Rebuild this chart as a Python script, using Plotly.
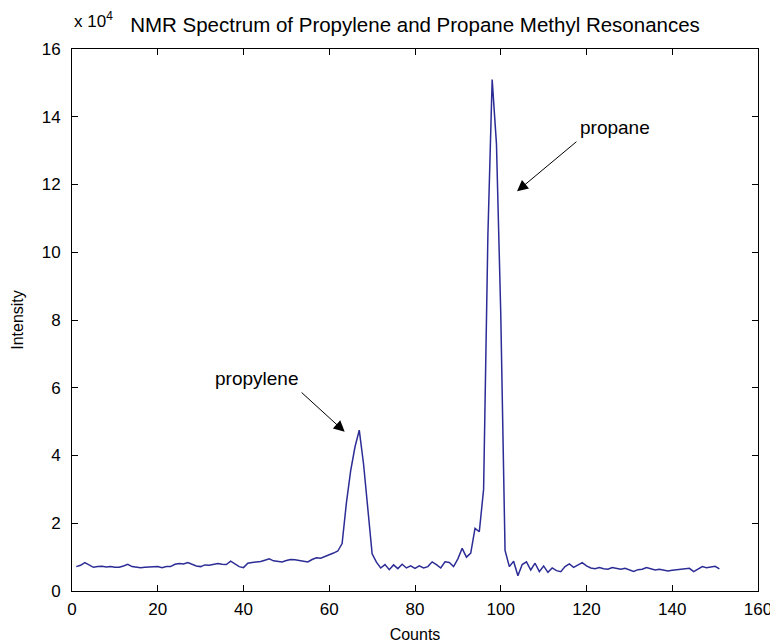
import plotly.graph_objects as go

# Counts (x) and intensity values in units of 1e4
counts = list(range(1, 152))
intensity_e4 = [
    0.72, 0.76, 0.84, 0.76, 0.70, 0.72, 0.73, 0.71, 0.72, 0.70,
    0.70, 0.74, 0.79, 0.72, 0.70, 0.69, 0.70, 0.70, 0.71, 0.72,
    0.69, 0.72, 0.72, 0.79, 0.81, 0.80, 0.84, 0.78, 0.74, 0.72,
    0.77, 0.76, 0.79, 0.81, 0.79, 0.78, 0.88, 0.80, 0.72, 0.69,
    0.82, 0.84, 0.85, 0.87, 0.91, 0.95, 0.89, 0.87, 0.86, 0.90,
    0.93, 0.92, 0.90, 0.86, 0.86, 0.93, 0.98, 0.97, 1.02, 1.05,
    1.12, 1.18, 1.40, 2.60, 3.55, 4.25, 4.75, 3.75, 2.50, 1.10,
    0.85, 0.68, 0.78, 0.63, 0.77, 0.66, 0.79, 0.68, 0.74, 0.67,
    0.74, 0.68, 0.72, 0.86, 0.78, 0.68, 0.86, 0.84, 0.72, 0.95,
    1.26, 1.00, 1.12, 1.85, 1.75, 3.00, 10.50, 15.10, 13.20, 8.20,
    1.20, 0.72, 0.88, 0.45, 0.78, 0.86, 0.62, 0.82, 0.57, 0.74,
    0.55, 0.68, 0.60, 0.57, 0.72, 0.80, 0.70, 0.76, 0.84, 0.74,
    0.68, 0.66, 0.69, 0.66, 0.64, 0.69, 0.66, 0.64, 0.67, 0.62,
    0.58, 0.63, 0.64, 0.69, 0.66, 0.62, 0.64, 0.62, 0.59, 0.61,
    0.62, 0.63, 0.65, 0.67, 0.57, 0.64, 0.72, 0.69, 0.70, 0.73,
    0.65,
]

x_ticks = [0, 20, 40, 60, 80, 100, 120, 140, 160]
y_ticks = [0, 2, 4, 6, 8, 10, 12, 14, 16]

title_text = "NMR Spectrum of Propylene and Propane Methyl Resonances"
x_label = "Counts"
y_label = "Intensity"
exponent_text = "x 10<sup>4</sup>"

# annotations: (label, head_x, head_y, tail_x, tail_y)
peak_labels = ["propylene", "propane"]
head_x = [63.6, 103.8]
head_y = [4.7, 11.8]
tail_x = [53.2, 118.0]
tail_y = [5.9, 13.3]

FONT = "Liberation Sans, Arial, Helvetica, sans-serif"

fig = go.Figure()
fig.add_trace(go.Scatter(
    x=counts, y=intensity_e4, mode="lines",
    line=dict(color="#2c2c96", width=1.5),
    showlegend=False, hoverinfo="skip",
))

for lab, hx, hy, tx, ty in zip(peak_labels, head_x, head_y, tail_x, tail_y):
    fig.add_annotation(
        x=hx, y=hy, ax=tx, ay=ty, xref="x", yref="y", axref="x", ayref="y",
        text="", showarrow=True, arrowhead=2, arrowsize=2.2, arrowwidth=1,
        arrowcolor="black", standoff=0, startstandoff=0,
    )

fig.add_annotation(x=tail_x[0], y=tail_y[0], xref="x", yref="y", text=peak_labels[0],
                   showarrow=False, xanchor="right", yanchor="bottom",
                   font=dict(family=FONT, size=19, color="black"))
fig.add_annotation(x=tail_x[1], y=tail_y[1], xref="x", yref="y", text=peak_labels[1],
                   showarrow=False, xanchor="left", yanchor="bottom",
                   font=dict(family=FONT, size=19, color="black"))

fig.add_annotation(x=0, y=1, xref="paper", yref="paper", text=exponent_text,
                   showarrow=False, xanchor="left", yanchor="bottom", yshift=16,
                   font=dict(family=FONT, size=17, color="black"))

axis_common = dict(
    showline=True, linecolor="black", linewidth=1, mirror="ticks",
    ticks="inside", ticklen=6, tickcolor="black", tickwidth=1,
    showgrid=False, zeroline=False, automargin=False,
    tickfont=dict(family=FONT, size=17, color="black"),
)

# the page body adds an 8 px offset, so the figure is 8 px smaller
fig.update_layout(
    width=770, height=635,
    margin=dict(l=64, r=20, t=41, b=52),
    paper_bgcolor="white", plot_bgcolor="white",
    title=dict(text=title_text, x=0.5, xref="paper", y=1 - 17 / 635,
               yref="container", yanchor="middle", xanchor="center",
               automargin=False,
               font=dict(family=FONT, size=20.5, color="black")),
    xaxis=dict(range=[0, 160], tickvals=x_ticks, ticklabelstandoff=3,
               title=dict(text=x_label, standoff=10,
                          font=dict(family=FONT, size=16, color="black")),
               **axis_common),
    yaxis=dict(range=[0, 16], tickvals=y_ticks, ticklabelstandoff=7,
               title=dict(text=y_label, standoff=14,
                          font=dict(family=FONT, size=16, color="black")),
               **axis_common),
)

fig.write_html("out.html")
